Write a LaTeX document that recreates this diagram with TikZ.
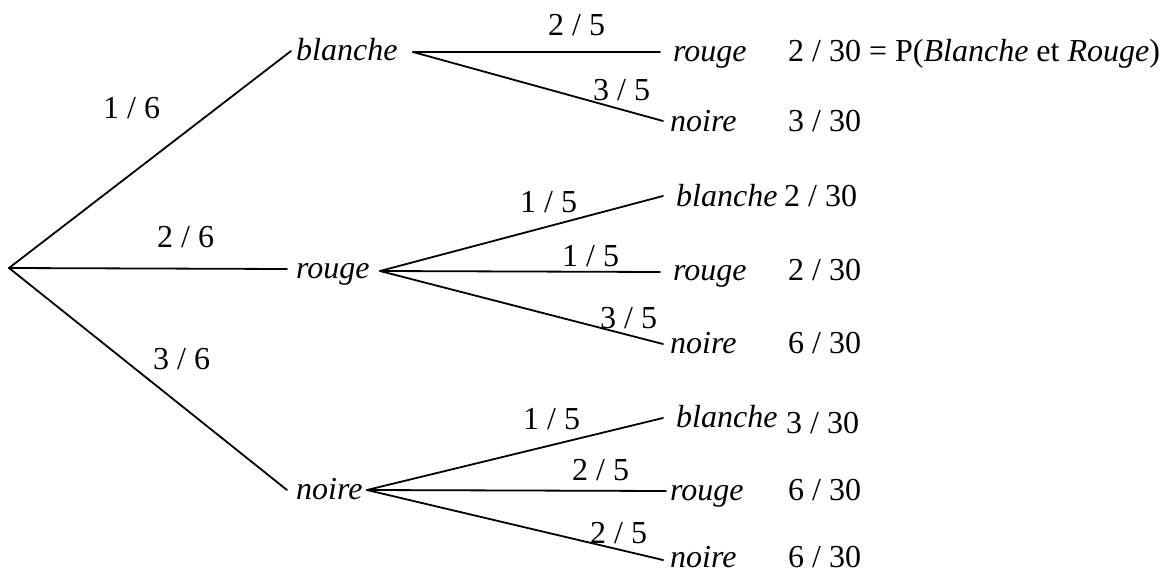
\documentclass[tikz,border=0pt]{standalone}
\usepackage{fontspec}
\setmainfont{Liberation Serif}
\begin{document}
\begin{tikzpicture}[x=1pt,y=-1pt,
  txt/.style={inner sep=0pt,anchor=base west,font=\fontsize{32}{38}\selectfont},
  br/.style={line width=1.8pt,line cap=round}]
\useasboundingbox (0,0) rectangle (1165,578);
% branch points
\coordinate (R) at (9,268);
\coordinate (B1) at (291,51);
\coordinate (R1) at (287,269);
\coordinate (N1) at (287,490);
\coordinate (B1s) at (413,52);
\coordinate (R1s) at (380,271);
\coordinate (N1s) at (367,490);
\coordinate (BR) at (660,52);
\coordinate (BN) at (663,121);
\coordinate (RB) at (663,196);
\coordinate (RR) at (660,272);
\coordinate (RN) at (663,344);
\coordinate (NB) at (663,418);
\coordinate (NR) at (666,491);
\coordinate (NN) at (663,560);
% level 1 texts
\node[txt] (tb1) at (296,60) {\itshape blanche};
\node[txt] (tr1) at (296,278) {\itshape rouge};
\node[txt] (tn1) at (296,499) {\itshape noire};
% level 2 texts
\node[txt] (tbr) at (673,62) {\itshape rouge};
\node[txt] (tbn) at (670,131) {\itshape noire};
\node[txt] (trb) at (676,206) {\itshape blanche};
\node[txt] (trr) at (673,280) {\itshape rouge};
\node[txt] (trn) at (670,353) {\itshape noire};
\node[txt] (tnb) at (676,427) {\itshape blanche};
\node[txt] (tnr) at (670,500) {\itshape rouge};
\node[txt] (tnn) at (670,567) {\itshape noire};
% results
\node[txt] (pbr) at (788,62) {2 / 30 = P(\textit{Blanche} et \textit{Rouge})};
\node[txt] (pbn) at (788,131) {3 / 30};
\node[txt] (prb) at (784,206) {2 / 30};
\node[txt] (prr) at (788,280) {2 / 30};
\node[txt] (prn) at (788,353) {6 / 30};
\node[txt] (pnb) at (786,433) {3 / 30};
\node[txt] (pnr) at (788,500) {6 / 30};
\node[txt] (pnn) at (788,567) {6 / 30};
% edge labels
\node[txt] (l1) at (103,118) {1 / 6};
\node[txt] (l2) at (157,247) {2 / 6};
\node[txt] (l3) at (153,369) {3 / 6};
\node[txt] (l4) at (548,36) {2 / 5};
\node[txt] (l5) at (593,100) {3 / 5};
\node[txt] (l6) at (520,212) {1 / 5};
\node[txt] (l7) at (562,266) {1 / 5};
\node[txt] (l8) at (600,328) {3 / 5};
\node[txt] (l9) at (523,429) {1 / 5};
\node[txt] (l10) at (572,480) {2 / 5};
\node[txt] (l11) at (590,543) {2 / 5};
% branches
\draw[br] (R) -- (B1);
\draw[br] (R) -- (R1);
\draw[br] (R) -- (N1);
\draw[br] (B1s) -- (BR);
\draw[br] (B1s) -- (BN);
\draw[br] (R1s) -- (RB);
\draw[br] (R1s) -- (RR);
\draw[br] (R1s) -- (RN);
\draw[br] (N1s) -- (NB);
\draw[br] (N1s) -- (NR);
\draw[br] (N1s) -- (NN);
\end{tikzpicture}
\end{document}
